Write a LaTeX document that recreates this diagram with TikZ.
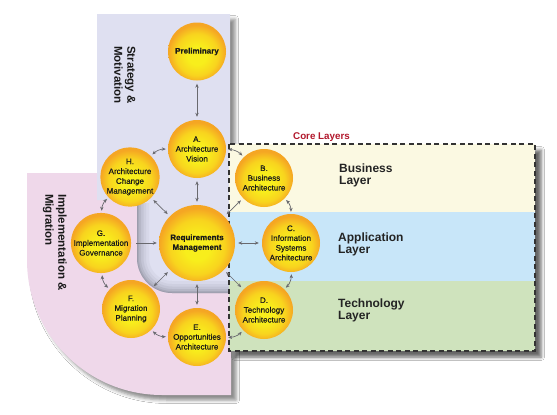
\documentclass[tikz,border=0pt]{standalone}
\usepackage{fontspec}
\setmainfont{Liberation Sans}
\newfontfamily\circfont[FakeBold=0.35]{Liberation Sans}
\usetikzlibrary{arrows.meta,shadows.blur}
\definecolor{lav}{RGB}{223,224,241}
\definecolor{pnk}{RGB}{239,216,234}
\definecolor{busc}{RGB}{251,249,226}
\definecolor{appc}{RGB}{200,230,249}
\definecolor{tecc}{RGB}{207,227,189}
\definecolor{ylw}{RGB}{248,238,28}
\definecolor{ymid}{RGB}{248,212,30}
\definecolor{org}{RGB}{245,166,35}
\definecolor{arrg}{RGB}{105,105,110}
\definecolor{txt}{RGB}{25,25,25}
\definecolor{corered}{RGB}{178,24,44}
\definecolor{bandgray}{RGB}{70,70,85}
\pgfdeclareradialshading{sunshade}{\pgfpoint{0bp}{-4bp}}{color(0bp)=(ylw); color(8bp)=(ylw); color(18bp)=(ymid); color(25bp)=(org); color(50bp)=(org)}
\tikzset{
  ballnode/.style={circle, shading=sunshade, minimum size=58pt, inner sep=0pt, align=center,
    font=\circfont\fontsize{8}{9.8}\selectfont, text=txt},
  dbl/.style={draw=arrg, line width=0.7pt, {Stealth[length=4pt,width=3.4pt]}-{Stealth[length=4pt,width=3.4pt]},
    shorten <=3pt, shorten >=3pt},
  sgl/.style={draw=arrg, line width=0.7pt, -{Stealth[length=4pt,width=3.4pt]},
    shorten <=5pt, shorten >=2pt},
  ringarr/.style={dbl, bend left=22.5, shorten <=2pt, shorten >=2pt},
  layerlbl/.style={anchor=north west, inner sep=0pt, align=left,
    font=\fontsize{12}{12}\selectfont\bfseries, text=txt!95},
  sidelbl/.style={rotate=-90, anchor=north west, inner sep=0pt, align=left,
    font=\fontsize{11.5}{13}\selectfont\bfseries, text=txt},
  panelshadow/.style={blur shadow={shadow xshift=5pt, shadow yshift=-5pt, shadow blur radius=3.5pt, shadow opacity=45}}
}
\begin{document}
\begin{tikzpicture}[x=1pt,y=-1pt]
\useasboundingbox (0,0) rectangle (557,415);
\fill[white] (0,0) rectangle (557,415);
% strategy panel shadow
\path[panelshadow] (97,14) -- (230,14) -- (230,293) -- (172,293) .. controls (152.7,293) and (137,277.3) .. (137,258) -- (137,200) -- (97,200) -- cycle;
% implementation panel
\fill[pnk, panelshadow] (27,173) -- (231,173) -- (231,395) -- (162,395) .. controls (87.4,395) and (27,334.6) .. (27,260) -- cycle;
% strategy panel
\fill[lav] (97,14) -- (230,14) -- (230,293) -- (172,293) .. controls (152.7,293) and (137,277.3) .. (137,258) -- (137,200) -- (97,200) -- cycle;
% inner groove shadow
\begin{scope}
  \clip (97,14) -- (230,14) -- (230,293) -- (172,293) .. controls (152.7,293) and (137,277.3) .. (137,258) -- (137,200) -- (97,200) -- cycle;
  \foreach \w/\o in {24/0.05, 18/0.06, 13/0.08, 8/0.1, 4/0.12, 1.5/0.12}
    \draw[line width=\w pt, draw=bandgray, draw opacity=\o] (137,203) -- (137,258) .. controls (137,277.3) and (152.7,293) .. (172,293) -- (240,293);
\end{scope}
% core layers box
\fill[busc, blur shadow={shadow xshift=6pt, shadow yshift=-6pt, shadow blur radius=3.5pt, shadow opacity=60}] (229,144) rectangle (535,351);
\fill[busc] (229,144) rectangle (535,212);
\fill[appc] (229,212) rectangle (535,281);
\fill[tecc] (229,281) rectangle (535,351);
\draw[line width=1.4pt, dash pattern=on 5pt off 3.5pt, draw=black!80] (229,144) rectangle (535,351);
% labels
\node[sidelbl] (sm) at (135.5,46) {Strategy \&\\Motivation};
\node[sidelbl] (im) at (67,194) {Implementation \&\\Migration};
\node[font=\fontsize{9.8}{11}\selectfont\bfseries, text=corered, inner sep=0pt] (cl) at (321.5,137) {Core Layers};
\node[layerlbl] (bl) at (339,164) {Business\\Layer};
\node[layerlbl] (al) at (338,233) {Application\\Layer};
\node[layerlbl] (tl) at (338,299) {Technology\\Layer};
% circles
\node[ballnode] (P) at (197,51.5) {\textbf{Preliminary}};
\node[ballnode] (A) at (197,149) {A.\\Architecture\\Vision};
\node[ballnode] (B) at (264,178) {B.\\Business\\Architecture};
\node[ballnode] (C) at (291,243) {C.\\Information\\Systems\\Architecture};
\node[ballnode] (D) at (264,310) {D.\\Technology\\Architecture};
\node[ballnode] (E) at (197,337) {E.\\Opportunities\\Architecture};
\node[ballnode] (F) at (131,309) {F.\\Migration\\Planning};
\node[ballnode] (G) at (101,243) {G.\\Implementation\\Governance};
\node[ballnode] (H) at (130,177) {H.\\Architecture\\Change\\Management};
\node[ballnode, minimum size=76pt] (R) at (197,243) {\textbf{Requirements}\\\textbf{Management}};
% arrows
\draw[dbl] (P) -- (A);
\draw[dbl] (A) -- (R);
\draw[dbl] (B) -- (R);
\draw[dbl] (C) -- (R);
\draw[dbl] (D) -- (R);
\draw[dbl] (E) -- (R);
\draw[dbl] (F) -- (R);
\draw[dbl] (H) -- (R);
\draw[sgl] (G) -- (R);
\draw[ringarr] (H) to (A);
\draw[ringarr] (A) to (B);
\draw[ringarr] (B) to (C);
\draw[ringarr] (C) to (D);
\draw[ringarr] (D) to (E);
\draw[ringarr] (E) to (F);
\draw[ringarr] (F) to (G);
\draw[ringarr] (G) to (H);
\end{tikzpicture}
\end{document}
